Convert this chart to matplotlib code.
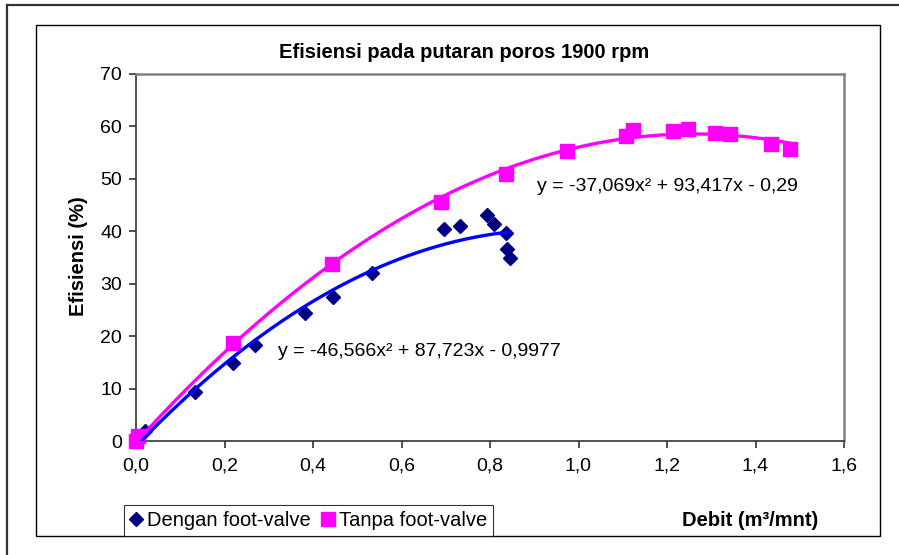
import matplotlib
matplotlib.use("Agg")
import matplotlib.pyplot as plt
import numpy as np
from matplotlib.patches import Rectangle
from matplotlib.lines import Line2D

plt.rcParams['font.family'] = ['Liberation Sans', 'DejaVu Sans']

# ---- data ----
dengan_x = [0.0, 0.02, 0.133, 0.22, 0.27, 0.383, 0.446, 0.534, 0.697, 0.732, 0.793, 0.809, 0.836, 0.839, 0.845]
dengan_y = [0.0, 1.9, 9.4, 14.9, 18.4, 24.5, 27.5, 32.1, 40.4, 41.0, 43.2, 41.3, 39.7, 36.6, 35.0]
tanpa_x = [0.0, 0.005, 0.22, 0.444, 0.689, 0.837, 0.975, 1.107, 1.124, 1.214, 1.248, 1.308, 1.342, 1.435, 1.478]
tanpa_y = [0.0, 1.0, 18.75, 33.7, 45.5, 50.9, 55.4, 58.2, 59.3, 59.2, 59.6, 58.8, 58.6, 56.6, 55.6]
dengan_coef = [-46.566, 87.723, -0.9977]
tanpa_coef = [-37.069, 93.417, -0.29]
dengan_eq = "y = -46,566x² + 87,723x - 0,9977"
tanpa_eq = "y = -37,069x² + 93,417x - 0,29"
x_ticks = [0.0, 0.2, 0.4, 0.6, 0.8, 1.0, 1.2, 1.4, 1.6]
x_ticklabels = ["0,0", "0,2", "0,4", "0,6", "0,8", "1,0", "1,2", "1,4", "1,6"]
y_ticks = [0, 10, 20, 30, 40, 50, 60, 70]
title = "Efisiensi pada putaran poros 1900 rpm"
xlabel = "Debit (m³/mnt)"
ylabel = "Efisiensi (%)"
labels = ["Dengan foot-valve", "Tanpa foot-valve"]

FS = 14
FSB = 14.5

W, H = 899, 555
fig = plt.figure(figsize=(W / 100, H / 100), dpi=100)

def fx(px):
    return px / W

def fy(py):
    return 1 - py / H

# outer border (top and left lines)
fig.add_artist(Line2D([fx(7), 1.0], [fy(5), fy(5)], color='#333333', lw=1.6, transform=fig.transFigure))
fig.add_artist(Line2D([fx(7), fx(7)], [fy(5), 0.0], color='#333333', lw=1.6, transform=fig.transFigure))
# inner chart frame
fig.add_artist(Rectangle((fx(36), fy(536)), fx(880) - fx(36), fy(25) - fy(536),
                         fill=False, edgecolor='black', lw=1.0, transform=fig.transFigure))

L, T, R, B = 136, 74, 844, 441
ax = fig.add_axes([fx(L), fy(B), fx(R) - fx(L), fy(T) - fy(B)])
ax.set_xlim(0, 1.6)
ax.set_ylim(0, 70)

# markers
ax.plot(dengan_x, dengan_y, linestyle='none', marker='D', markersize=7.5,
        color='#000080', zorder=3, clip_on=False)
ax.plot(tanpa_x, tanpa_y, linestyle='none', marker='s', markersize=9.5,
        color='#FF00FF', zorder=3, clip_on=False)

# trendlines
xd = np.linspace(0, max(dengan_x), 200)
ax.plot(xd, np.polyval(dengan_coef, xd), color='#0000FF', lw=2.4, zorder=4)
xt = np.linspace(0, max(tanpa_x), 200)
ax.plot(xt, np.polyval(tanpa_coef, xt), color='#FF00FF', lw=2.4, zorder=4)

ax.set_xticks(x_ticks)
ax.set_xticklabels(x_ticklabels)
ax.set_yticks(y_ticks)
ax.tick_params(axis='both', direction='out', length=5, width=1.2, color='#333333',
               labelsize=FS, pad=5)
ax.tick_params(axis='x', pad=7)
for s in ['top', 'right']:
    ax.spines[s].set_color('#808080')
    ax.spines[s].set_linewidth(1.8)
for s in ['left', 'bottom']:
    ax.spines[s].set_color('#333333')
    ax.spines[s].set_linewidth(1.2)

ax.text(0.32, 17.0, dengan_eq, fontsize=FS, va='center', ha='left')
ax.text(0.907, 48.6, tanpa_eq, fontsize=FS, va='center', ha='left')

fig.text(fx(464), fy(52), title, fontsize=FSB, fontweight='bold', ha='center', va='center')
fig.text(fx(78), fy(256), ylabel, fontsize=FSB, fontweight='bold', rotation=90, ha='center', va='center')
fig.text(fx(750), fy(520), xlabel, fontsize=FSB, fontweight='bold', ha='center', va='center')

# legend
handles = [Line2D([], [], linestyle='none', marker='D', markersize=7.5, color='#000080'),
           Line2D([], [], linestyle='none', marker='s', markersize=9.5, color='#FF00FF')]
leg = fig.legend(handles, labels, ncol=2, loc='lower left',
                 bbox_to_anchor=(fx(124), fy(536)),
                 frameon=True, fancybox=False, fontsize=14.5,
                 handlelength=0.6, handletextpad=0.25, columnspacing=0.55,
                 borderaxespad=0, borderpad=0.3)
leg.get_frame().set_edgecolor('black')
leg.get_frame().set_linewidth(0.8)

fig.savefig('out.png', dpi=100)
